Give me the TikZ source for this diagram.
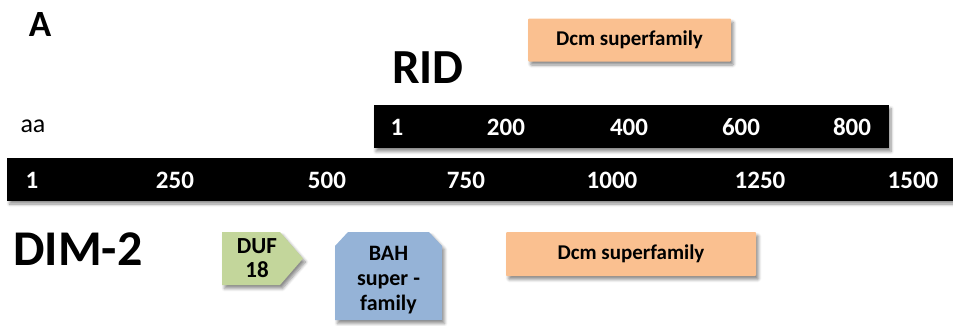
\documentclass[tikz,border=0pt]{standalone}
\usepackage{fontspec}
\setmainfont{Carlito}
\usetikzlibrary{shadows.blur}
\definecolor{dcmfill}{HTML}{FAC090}
\definecolor{duffill}{HTML}{C3D69B}
\definecolor{bahfill}{HTML}{95B3D7}
\newcommand{\fs}[1]{\fontsize{#1}{#1}\selectfont}
\tikzset{
  soft/.style={blur shadow={shadow xshift=2.5pt, shadow yshift=-3.5pt,
      shadow blur steps=6, shadow opacity=45, shadow blur radius=3pt}},
  ruler/.style={fill=black, draw=none, soft, inner sep=0pt, minimum height=43pt},
  tick/.style={text=white, font=\bfseries\fs{25}, inner sep=0pt},
  domainbox/.style={fill=dcmfill, draw=none, soft, inner sep=0pt,
      font=\bfseries\fs{21}, rounded corners=1pt},
  title/.style={font=\bfseries, inner sep=0pt},
  lbl/.style={font=\bfseries, align=center, inner sep=0pt}
}
\begin{document}
\begin{tikzpicture}[x=1pt, y=-1pt]
\useasboundingbox (0,0) rectangle (953,325);

% panel letter and protein names
\node[title, font=\bfseries\fs{37}] (panel) at (40,24) {A};
\node[title, font=\bfseries\fs{49}] (rid) at (428,68) {RID};
\node[title, font=\bfseries\fs{50}] (dim) at (78,249) {DIM-2};
\node[inner sep=0pt, font=\fs{26}] (aa) at (33,126) {aa};

% RID ruler
\node[ruler, minimum width=515pt] (ridbar) at (631,126.5) {};
\foreach \x/\t in {397/1, 506/200, 629/400, 741/600, 852/800}
  \node[tick] (r\t) at (\x,127) {\t};

% DIM-2 ruler
\node[ruler, minimum width=946pt] (dimbar) at (480,179) {};
\foreach \x/\t in {32/1, 175/250, 327/500, 466/750, 612/1000, 760/1250, 913/1500}
  \node[tick] (d\t) at (\x,180) {\t};

% Dcm domains
\node[domainbox, minimum width=203pt, minimum height=43pt] (dcmrid) at (629.5,40) {Dcm superfamily};
\node[domainbox, minimum width=250pt, minimum height=44pt] (dcmdim) at (631,254) {Dcm superfamily};

% DUF18 pentagon arrow
\fill[duffill, soft] (222,232) -- (280,232) -- (303,258.5) -- (280,285) -- (222,285) -- cycle;
\node[lbl, font=\bfseries\fs{23}] (duf) at (257,258) {DUF\\[1pt]18};

% BAH domain with clipped top corners
\fill[bahfill, soft] (335,246) -- (348,232) -- (429,232) -- (442,246)
  -- (442,320) -- (335,320) -- cycle;
\node[lbl, font=\bfseries\fs{22}] (bah) at (388.5,280) {BAH\\[3pt]super -\\[3pt]family};
\end{tikzpicture}
\end{document}
